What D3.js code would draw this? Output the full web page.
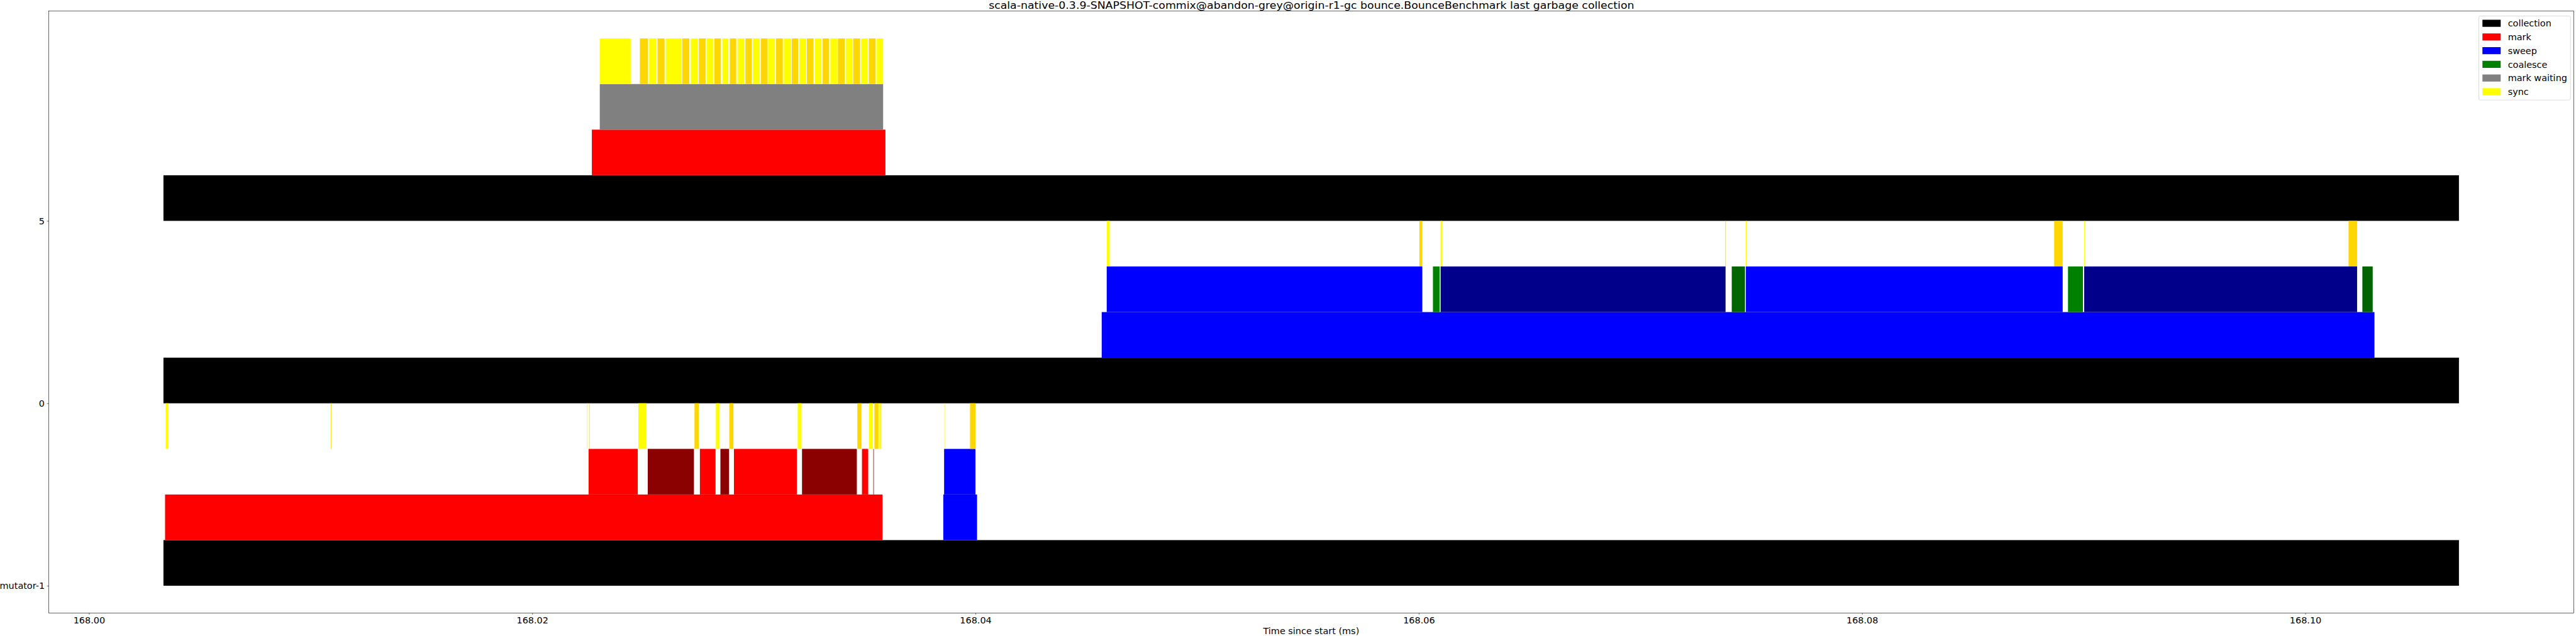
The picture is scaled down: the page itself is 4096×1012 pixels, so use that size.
<!DOCTYPE html>
<html>
<head>
<meta charset="utf-8">
<script src="https://cdn.jsdelivr.net/npm/d3@7"></script>
<style>
  html, body { margin: 0; padding: 0; background: #fff; }
  svg { display: block; font-family: "DejaVu Sans", sans-serif; }
</style>
</head>
<body>
<svg id="chart" width="4096" height="1012"></svg>
<script>
// ---------------- data (times in ms since start) ----------------
const threadNames = ["mutator-1", "0", "5"];   // y tick labels, bottom to top
const rowNames = ["collection", "phase", "batch", "sync"];
const xTickValues = [168.00, 168.02, 168.04, 168.06, 168.08, 168.10];
const titleText = "scala-native-0.3.9-SNAPSHOT-commix@abandon-grey@origin-r1-gc bounce.BounceBenchmark last garbage collection";
const xLabelText = "Time since start (ms)";

// [thread, start, end]
const collection = [
  ["mutator-1", 168.003362, 168.106934],
  ["0",         168.003362, 168.106934],
  ["5",         168.003362, 168.106934]
];
const markPhase = [
  ["mutator-1", 168.003435, 168.035806],
  ["5",         168.022691, 168.035937]
];
const sweepPhase = [
  ["mutator-1", 168.038548, 168.040072],
  ["0",         168.045696, 168.103122]
];
const markBatches = [
  ["mutator-1", 168.022544, 168.024763],
  ["mutator-1", 168.025214, 168.027298],
  ["mutator-1", 168.027566, 168.028273],
  ["mutator-1", 168.028492, 168.028883],
  ["mutator-1", 168.029102, 168.031942],
  ["mutator-1", 168.032174, 168.034648],
  ["mutator-1", 168.034879, 168.035160],
  ["mutator-1", 168.035392, 168.035415]
];
const sweepBatches = [
  ["mutator-1", 168.038585, 168.039999],
  ["0", 168.045922, 168.060162],
  ["0", 168.060987, 168.073844],
  ["0", 168.074761, 168.089055],
  ["0", 168.090025, 168.102339]
];
const coalesceBatches = [
  ["0", 168.060641, 168.060946],
  ["0", 168.074123, 168.074721],
  ["0", 168.089295, 168.089971],
  ["0", 168.102577, 168.103043]
];
const markWaiting = [
  ["5", 168.023049, 168.035834]
];
const syncEvents = [
  ["mutator-1", 168.003460, 168.003582],
  ["mutator-1", 168.010919, 168.010944],
  ["mutator-1", 168.022471, 168.022496],
  ["mutator-1", 168.022570, 168.022593],
  ["mutator-1", 168.024788, 168.025154],
  ["mutator-1", 168.027322, 168.027517],
  ["mutator-1", 168.028286, 168.028457],
  ["mutator-1", 168.028895, 168.029079],
  ["mutator-1", 168.031979, 168.032149],
  ["mutator-1", 168.034671, 168.034855],
  ["mutator-1", 168.035197, 168.035367],
  ["mutator-1", 168.035440, 168.035623],
  ["mutator-1", 168.035646, 168.035684],
  ["mutator-1", 168.035705, 168.035734],
  ["mutator-1", 168.038598, 168.038621],
  ["mutator-1", 168.039755, 168.039999],
  ["0", 168.045922, 168.046055],
  ["0", 168.060030, 168.060162],
  ["0", 168.060987, 168.061053],
  ["0", 168.073831, 168.073857],
  ["0", 168.074761, 168.074801],
  ["0", 168.088670, 168.089055],
  ["0", 168.090025, 168.090051],
  ["0", 168.101954, 168.102339],
  ["5", 168.023047, 168.024444],
  ["5", 168.024857, 168.025223],
  ["5", 168.025279, 168.025598],
  ["5", 168.025653, 168.025972],
  ["5", 168.026028, 168.026722],
  ["5", 168.026769, 168.027088],
  ["5", 168.027154, 168.027463],
  ["5", 168.027519, 168.027829],
  ["5", 168.027866, 168.028176],
  ["5", 168.028223, 168.028513],
  ["5", 168.028579, 168.028851],
  ["5", 168.028917, 168.029206],
  ["5", 168.029264, 168.029563],
  ["5", 168.029620, 168.029910],
  ["5", 168.029957, 168.030266],
  ["5", 168.030313, 168.030622],
  ["5", 168.030650, 168.030951],
  ["5", 168.030997, 168.031307],
  ["5", 168.031354, 168.031663],
  ["5", 168.031710, 168.032001],
  ["5", 168.032056, 168.032356],
  ["5", 168.032394, 168.032694],
  ["5", 168.032750, 168.033050],
  ["5", 168.033106, 168.033397],
  ["5", 168.033453, 168.033753],
  ["5", 168.033791, 168.034100],
  ["5", 168.034147, 168.034438],
  ["5", 168.034485, 168.034794],
  ["5", 168.034841, 168.035141],
  ["5", 168.035188, 168.035498],
  ["5", 168.035545, 168.035834]
];

// legend
const legendLabels = ["collection", "mark", "sweep", "coalesce", "mark waiting", "sync"];
const legendColors = ["#000000", "#ff0000", "#0000ff", "#008000", "#808080", "#ffff00"];

// ---------------- layout ----------------
const S = 4096 / 7902;
const W = 4096, H = 1012;
const plotLeft = 149.3 * S, plotRight = 7895 * S, plotTop = 34 * S, plotBottom = 1882 * S;
const fontTick = 27.8 * S, fontTitle = 15;

const svg = d3.select("#chart");

// series definitions -> rect data
function alternate(list, row, colors) {
  const counters = {};
  return list.map(([t, s, e]) => {
    const k = counters[t] = (counters[t] || 0);
    counters[t] = k + 1;
    return { thread: t, row, start: s, end: e, color: colors[k % colors.length] };
  });
}
const rects = [].concat(
  alternate(collection, 0, ["#000000"]),
  alternate(markPhase, 1, ["#ff0000"]),
  alternate(sweepPhase, 1, ["#0000ff"]),
  alternate(markBatches, 2, ["#ff0000", "#8b0000"]),
  alternate(sweepBatches, 2, ["#0000ff", "#00008b"]),
  alternate(coalesceBatches, 2, ["#008000", "#006400"]),
  alternate(markWaiting, 2, ["#808080"]),
  alternate(syncEvents, 3, ["#ffff00", "#ffd700"])
);
const rowsPerThread = rowNames.length;
const yBase = t => threadNames.indexOf(t) * rowsPerThread;

const xMin = d3.min(rects, d => d.start), xMax = d3.max(rects, d => d.end);
const xPad = 0.05 * (xMax - xMin);
const x = d3.scaleLinear().domain([xMin - xPad, xMax + xPad]).range([plotLeft, plotRight]);
const yTop = threadNames.length * rowsPerThread;
const yPad = 0.05 * yTop;
const y = d3.scaleLinear().domain([-yPad, yTop + yPad]).range([plotBottom, plotTop]);

// bars
svg.append("g").selectAll("rect").data(rects).join("rect")
  .attr("x", d => x(d.start))
  .attr("width", d => Math.max(0, x(d.end) - x(d.start)))
  .attr("y", d => y(yBase(d.thread) + d.row + 1))
  .attr("height", d => y(yBase(d.thread) + d.row) - y(yBase(d.thread) + d.row + 1))
  .attr("fill", d => d.color);

// axes
const xAxis = d3.axisBottom(x).tickValues(xTickValues).tickFormat(d3.format(".2f"))
  .tickSizeInner(4.6 * S).tickSizeOuter(0).tickPadding(3.4);
const gx = svg.append("g").attr("transform", `translate(0,${plotBottom})`).call(xAxis);
gx.select(".domain").remove();
gx.selectAll("line").attr("stroke", "#000").attr("stroke-width", 0.6);
gx.selectAll("text").attr("font-size", fontTick).attr("fill", "#000").attr("font-family", "DejaVu Sans");

const yAxis = d3.axisLeft(y).tickValues(threadNames.map((t, i) => i * rowsPerThread))
  .tickFormat((d, i) => threadNames[i]).tickSizeInner(5.3 * S).tickSizeOuter(0).tickPadding(3.6);
const gy = svg.append("g").attr("transform", `translate(${plotLeft},0)`).call(yAxis);
gy.select(".domain").remove();
gy.selectAll("line").attr("stroke", "#000").attr("stroke-width", 0.6);
gy.selectAll("text").attr("font-size", fontTick).attr("fill", "#000").attr("font-family", "DejaVu Sans");

// frame
svg.append("rect")
  .attr("x", plotLeft).attr("y", plotTop)
  .attr("width", plotRight - plotLeft).attr("height", plotBottom - plotTop)
  .attr("fill", "none").attr("stroke", "#000").attr("stroke-width", 0.6);

// title
svg.append("text")
  .attr("x", (3033 + 5013) / 2 * S).attr("y", 14.2)
  .attr("text-anchor", "middle").attr("font-size", fontTitle).attr("fill", "#000")
  .attr("textLength", (5013 - 3033) * S).attr("lengthAdjust", "spacingAndGlyphs")
  .text(titleText);

// x label
svg.append("text")
  .attr("x", (plotLeft + plotRight) / 2).attr("y", 1947 * S)
  .attr("text-anchor", "middle").attr("font-size", fontTick).attr("fill", "#000")
  .text(xLabelText);

// legend
const lg = svg.append("g");
lg.append("rect")
  .attr("x", 7604 * S).attr("y", 49 * S)
  .attr("width", (7885 - 7604) * S).attr("height", (307 - 49) * S)
  .attr("rx", 2).attr("fill", "#fff").attr("fill-opacity", 0.8)
  .attr("stroke", "#cccccc").attr("stroke-width", 0.7);
const rowC = i => (71.5 + 42 * i) * S;
lg.selectAll("rect.patch").data(legendLabels).join("rect").attr("class", "patch")
  .attr("x", 7615 * S).attr("width", 56 * S)
  .attr("y", (d, i) => rowC(i) - 10.85 * S).attr("height", 21.7 * S)
  .attr("fill", (d, i) => legendColors[i]);
lg.selectAll("text").data(legendLabels).join("text")
  .attr("x", 7693 * S).attr("y", (d, i) => rowC(i) + 10.2 * S)
  .attr("font-size", fontTick).attr("fill", "#000")
  .text(d => d);
</script>
</body>
</html>
